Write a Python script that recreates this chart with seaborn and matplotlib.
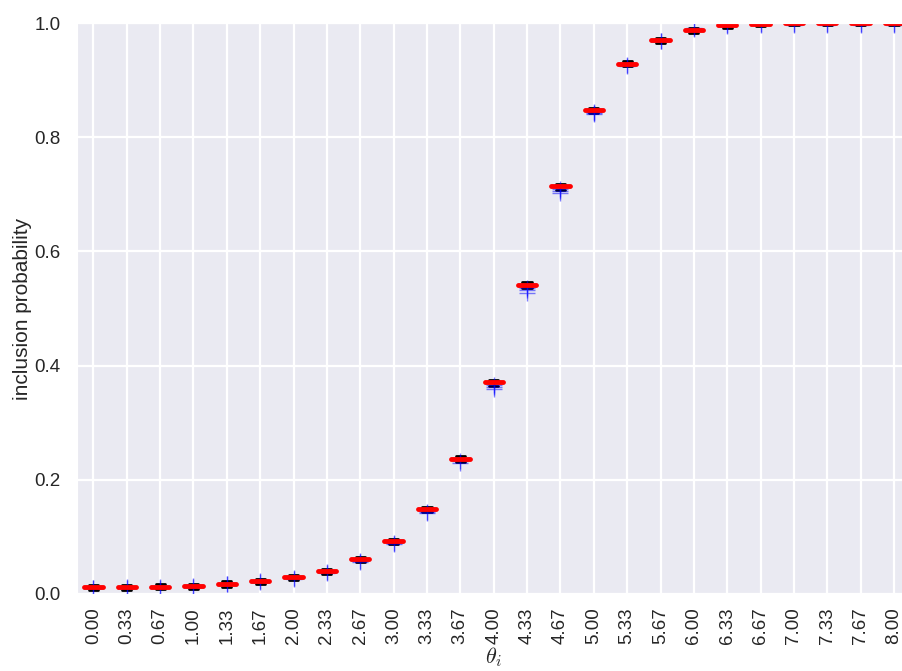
import matplotlib
matplotlib.use("Agg")
import matplotlib.pyplot as plt
import seaborn as sns
import numpy as np

# theta values (x categories)
theta = [0.00, 0.33, 0.67, 1.00, 1.33, 1.67, 2.00, 2.33, 2.67, 3.00, 3.33, 3.67,
         4.00, 4.33, 4.67, 5.00, 5.33, 5.67, 6.00, 6.33, 6.67, 7.00, 7.33, 7.67, 8.00]

# box statistics
medians = [0.012, 0.012, 0.013, 0.014, 0.018, 0.022, 0.029, 0.040, 0.061, 0.093, 0.148, 0.237,
           0.371, 0.542, 0.714, 0.848, 0.929, 0.970, 0.988, 0.996, 0.999, 1.000, 1.000, 1.000, 1.000]
q1 = [0.011, 0.011, 0.012, 0.013, 0.017, 0.021, 0.028, 0.039, 0.060, 0.092, 0.147, 0.236,
      0.369, 0.540, 0.712, 0.847, 0.928, 0.969, 0.987, 0.995, 0.999, 1.000, 1.000, 1.000, 1.000]
q3 = [0.013, 0.013, 0.014, 0.015, 0.019, 0.023, 0.030, 0.041, 0.062, 0.094, 0.149, 0.238,
      0.372, 0.543, 0.715, 0.849, 0.930, 0.971, 0.989, 0.997, 1.000, 1.000, 1.000, 1.000, 1.000]
whis_lo = [0.007, 0.007, 0.008, 0.009, 0.013, 0.017, 0.024, 0.035, 0.056, 0.088, 0.143, 0.232,
           0.365, 0.536, 0.708, 0.843, 0.924, 0.965, 0.983, 0.991, 0.995, 0.996, 0.996, 0.996, 0.996]
whis_hi = [0.016, 0.016, 0.017, 0.018, 0.022, 0.026, 0.033, 0.044, 0.065, 0.097, 0.152, 0.241,
           0.375, 0.546, 0.718, 0.852, 0.933, 0.974, 0.992, 1.000, 1.000, 1.000, 1.000, 1.000, 1.000]
fliers = [[0.011, 0.010], [0.012, 0.011], [0.012, 0.011], [0.014, 0.013], [0.018, 0.017],
          [0.022, 0.021], [0.028, 0.027], [0.038, 0.037], [0.058, 0.056], [0.089, 0.087],
          [0.144, 0.141], [0.233, 0.230], [0.366, 0.362, 0.359], [0.536, 0.532, 0.528],
          [0.709, 0.706, 0.703], [0.845, 0.842, 0.840], [0.927, 0.925], [0.969, 0.968],
          [0.989, 0.991], [0.996, 0.995], [0.998, 0.997], [0.998, 0.997], [0.998, 0.997],
          [0.998, 0.997], [0.998, 0.997]]

sns.set_style("darkgrid")
plt.rcParams['font.family'] = ['Liberation Sans', 'DejaVu Sans']
plt.rcParams['mathtext.fontset'] = 'cm'

fig = plt.figure(figsize=(9.02, 6.71), dpi=100)
ax = fig.add_axes([76.7 / 902, 77 / 671, 834 / 902, 571 / 671])

stats = []
for i in range(len(theta)):
    stats.append(dict(med=medians[i], q1=q1[i], q3=q3[i],
                      whislo=whis_lo[i], whishi=whis_hi[i], fliers=fliers[i]))

ax.bxp(stats, positions=range(1, len(theta) + 1), widths=0.55,
       boxprops=dict(color='blue', linewidth=1),
       medianprops=dict(color='red', linewidth=3.5, solid_capstyle='round'),
       whiskerprops=dict(color='blue', linewidth=1),
       capprops=dict(color='black', linewidth=2),
       flierprops=dict(marker='+', markeredgecolor='blue', alpha=0.5,
                       markersize=11, markeredgewidth=1),
       manage_ticks=False)

ax.set_xlim(0.5, 25.5)
ax.set_ylim(0, 1.0)
ax.set_xticks(range(1, len(theta) + 1))
ax.set_xticklabels([f"{t:.2f}" for t in theta], rotation=90, fontsize=13.5)
ax.set_yticks([0.0, 0.2, 0.4, 0.6, 0.8, 1.0])
ax.set_yticklabels(["0.0", "0.2", "0.4", "0.6", "0.8", "1.0"], fontsize=13.5)
ax.tick_params(axis='x', pad=6)
ax.tick_params(axis='y', pad=8)
ax.grid(True, color='white', linewidth=1.6)
ax.set_ylabel("inclusion probability", fontsize=15, labelpad=2)
ax.set_xlabel(r"$\theta_i$", fontsize=16, labelpad=1)

fig.savefig("out.png", dpi=100)
